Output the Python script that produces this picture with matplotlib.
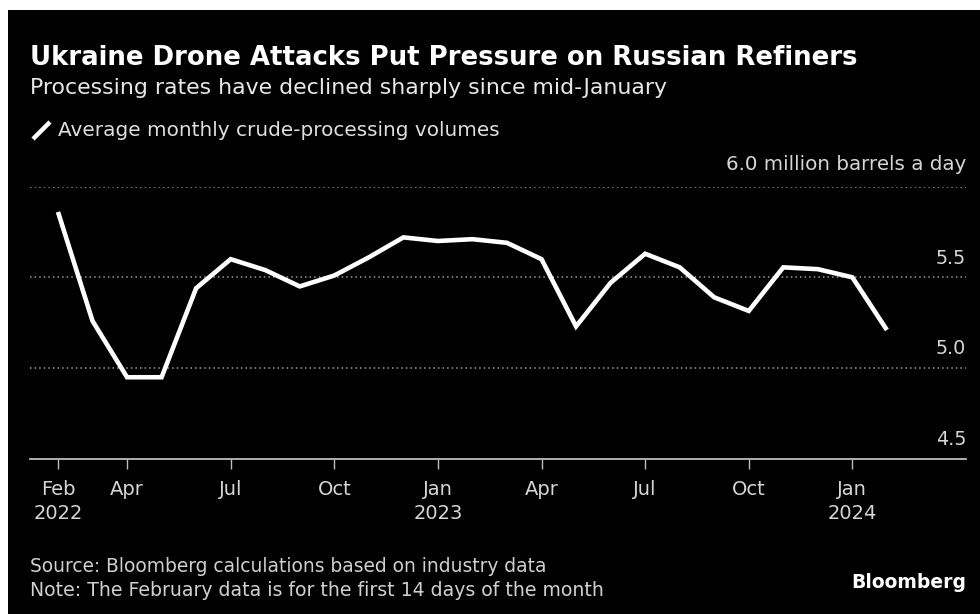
import matplotlib
matplotlib.use("Agg")
import matplotlib.pyplot as plt
from matplotlib.patches import Rectangle
from matplotlib.lines import Line2D
import matplotlib.transforms as mtransforms

# Average monthly crude-processing volumes, million barrels a day, Feb 2022 - Feb 2024
months = ["2022-02", "2022-03", "2022-04", "2022-05", "2022-06", "2022-07", "2022-08",
          "2022-09", "2022-10", "2022-11", "2022-12", "2023-01", "2023-02", "2023-03",
          "2023-04", "2023-05", "2023-06", "2023-07", "2023-08", "2023-09", "2023-10",
          "2023-11", "2023-12", "2024-01", "2024-02"]
volumes = [5.86, 5.26, 4.95, 4.95, 5.44, 5.60, 5.54, 5.45, 5.51, 5.61, 5.72, 5.70,
           5.71, 5.69, 5.60, 5.23, 5.47, 5.63, 5.555, 5.39, 5.315, 5.555, 5.545, 5.50, 5.21]

tick_months = ["2022-02", "2022-04", "2022-07", "2022-10", "2023-01", "2023-04",
               "2023-07", "2023-10", "2024-01"]
tick_labels = ["Feb\n2022", "Apr", "Jul", "Oct", "Jan\n2023", "Apr", "Jul", "Oct", "Jan\n2024"]
y_ticks = [4.5, 5.0, 5.5, 6.0]
y_labels = ["4.5", "5.0", "5.5", "6.0 million barrels a day"]

W, H = 980, 614
fig = plt.figure(figsize=(W / 100, H / 100), dpi=100, facecolor="white")
plt.rcParams['font.family'] = ['DejaVu Sans']

# black card with thin white margin on top/left
fig.patches.append(Rectangle((8 / W, 0), 1 - 8 / W, 1 - 10 / H, transform=fig.transFigure,
                             facecolor="black", edgecolor="none", zorder=-1))

ax_left, ax_right = 30 / W, 966 / W
ax_bottom, ax_top = 1 - 459 / H, 1 - 186.5 / H
ax = fig.add_axes([ax_left, ax_bottom, ax_right - ax_left, ax_top - ax_bottom])
ax.set_facecolor("none")
ax.set_zorder(2)

x = list(range(len(months)))
ax.plot(x, volumes, color="white", lw=3.3, solid_joinstyle="miter", solid_capstyle="butt", zorder=3)

ax.set_xlim(-0.81, len(months) - 1 + 2.29)
ax.set_ylim(4.5, 6.0)

for s in ["top", "right", "left"]:
    ax.spines[s].set_visible(False)
ax.spines["bottom"].set_color("#bdbdbd")
ax.spines["bottom"].set_linewidth(1.3)

ax.set_xticks([months.index(m) for m in tick_months])
ax.set_xticklabels(tick_labels, color="#d6d6d6", fontsize=14, linespacing=1.35)
ax.tick_params(axis="x", direction="out", length=7, width=1, color="#bdbdbd", pad=8)
ax.set_yticks([])

for yv in y_ticks[1:]:
    ax.axhline(yv, color="#9a9a9a", lw=1.1, ls=(0, (1.0, 2.0)), zorder=1)

trans = mtransforms.blended_transform_factory(ax.transAxes, ax.transData)
for yv, lab in zip(y_ticks, y_labels):
    big = len(lab) > 4
    ax.annotate(lab, xy=(1.0, yv), xycoords=trans, xytext=(0, 9 if big else 7),
                textcoords="offset points", ha="right", va="bottom", color="#d6d6d6",
                fontsize=14.3 if big else 13.8)

# titles
fig.text(30 / W, 1 - 58 / H, "Ukraine Drone Attacks Put Pressure on Russian Refiners",
         color="white", fontsize=18.7, fontweight="bold", va="center", ha="left")
fig.text(30 / W, 1 - 88 / H, "Processing rates have declined sharply since mid-January",
         color="#e8e8e8", fontsize=15.8, va="center", ha="left")

# legend
fig.lines.append(Line2D([33 / W, 50 / W], [1 - 139 / H, 1 - 122 / H], transform=fig.transFigure,
                        color="white", lw=3.2, solid_capstyle="butt"))
fig.text(58 / W, 1 - 130 / H, "Average monthly crude-processing volumes",
         color="#e0e0e0", fontsize=14.4, va="center", ha="left")

# footer
fig.text(30 / W, 1 - 567 / H, "Source: Bloomberg calculations based on industry data",
         color="#d0d0d0", fontsize=13.4, va="center", ha="left")
fig.text(30 / W, 1 - 590 / H, "Note: The February data is for the first 14 days of the month",
         color="#d0d0d0", fontsize=13.6, va="center", ha="left")
fig.text(966 / W, 1 - 583 / H, "Bloomberg", color="white", fontsize=13.5, fontweight="bold",
         va="center", ha="right")

fig.savefig("out.png", dpi=100, facecolor=fig.get_facecolor())
